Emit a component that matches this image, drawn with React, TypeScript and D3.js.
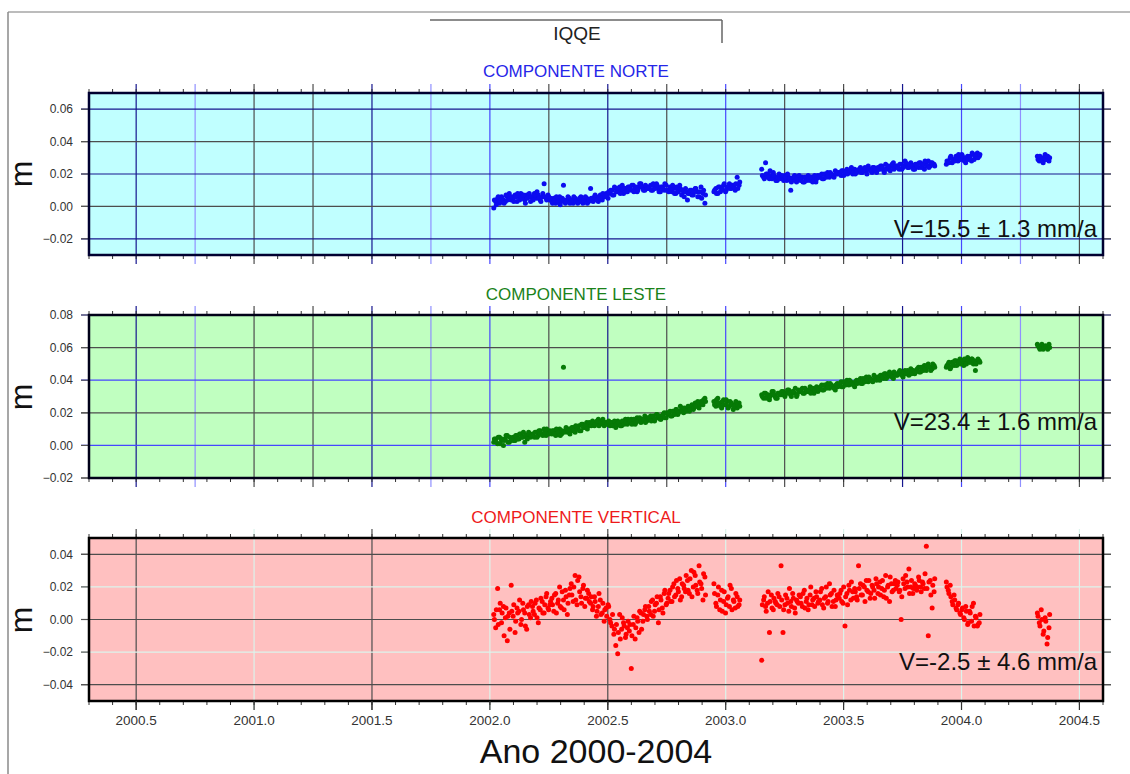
import React from "react";
import * as d3 from "d3";

// station + axis texts
const stationName = "IQQE";
const xTitle = "Ano 2000-2004";
const yTitle = "m";
const panelTitles = ["COMPONENTE NORTE", "COMPONENTE LESTE", "COMPONENTE VERTICAL"];
const velocityLabels = ["V=15.5 \u00b1 1.3 mm/a", "V=23.4 \u00b1 1.6 mm/a", "V=-2.5 \u00b1 4.6 mm/a"];
const yDomains = [[-0.03, 0.07], [-0.02, 0.08], [-0.05, 0.05]];
const xDomain = [2000.3, 2004.6];
const yearLabels = [2000.5, 2001.0, 2001.5, 2002.0, 2002.5, 2003.0, 2003.5, 2004.0, 2004.5];

// observation epochs, days after 2002-01-01 (same epochs for the 3 components)
const epochDays = [
  // 2002.0 - 2002.9
  6, 9, 12, 15, 18, 21, 24, 27, 30, 33,
  36, 39, 42, 45, 48, 51, 54, 57, 60, 63,
  66, 69, 72, 75, 78, 81, 84, 87, 90, 93,
  96, 99, 102, 105, 108, 111, 114, 117, 120, 123,
  126, 129, 132, 135, 138, 141, 144, 147, 150, 153,
  156, 159, 162, 165, 168, 171, 174, 177, 180, 183,
  186, 189, 192, 195, 198, 201, 204, 207, 210, 213,
  216, 219, 222, 225, 228, 231, 234, 237, 240, 243,
  246, 249, 252, 255, 258, 261, 264, 267, 270, 273,
  276, 279, 282, 285, 288, 291, 294, 297, 300, 303,
  306, 309, 312, 315, 318, 321, 324, 327, 330, 333,
  // 2002.95 - 2003.05
  347, 350, 353, 356, 359, 362, 365, 368, 371, 374, 377, 380, 383, 386,
  // 2003.15 - 2003.89
  421, 424, 427, 430, 433, 436, 439, 442, 445, 448,
  451, 454, 457, 460, 463, 466, 469, 472, 475, 478,
  481, 484, 487, 490, 493, 496, 499, 502, 505, 508,
  511, 514, 517, 520, 523, 526, 529, 532, 535, 538,
  541, 544, 547, 550, 553, 556, 559, 562, 565, 568,
  571, 574, 577, 580, 583, 586, 589, 592, 595, 598,
  601, 604, 607, 610, 613, 616, 619, 622, 625, 628,
  631, 634, 637, 640, 643, 646, 649, 652, 655, 658,
  661, 664, 667, 670, 673, 676, 679, 682, 685, 688,
  // 2003.94 - 2004.08
  707, 710, 713, 716, 719, 722, 725, 728, 731, 734, 737, 740, 743, 746, 749, 752, 755, 758,
  // 2004.32 - 2004.37
  848, 851, 854, 857, 860, 863, 866,
];

// the in-between days
const epochDays2 = [
  7, 10, 13, 16, 19, 22, 25, 28, 31, 34,
  37, 40, 43, 46, 49, 52, 55, 58, 61, 64,
  67, 70, 73, 76, 79, 82, 85, 88, 91, 94,
  97, 100, 103, 106, 109, 112, 115, 118, 121, 124,
  127, 130, 133, 136, 139, 142, 145, 148, 151, 154,
  157, 160, 163, 166, 169, 172, 175, 178, 181, 184,
  187, 190, 193, 196, 199, 202, 205, 208, 211, 214,
  217, 220, 223, 226, 229, 232, 235, 238, 241, 244,
  247, 250, 253, 256, 259, 262, 265, 268, 271, 274,
  277, 280, 283, 286, 289, 292, 295, 298, 301, 304,
  307, 310, 313, 316, 319, 322, 325, 328, 331, 334,
  348, 351, 354, 357, 360, 363, 366, 369, 372, 375, 378, 381, 384, 387,
  422, 425, 428, 431, 434, 437, 440, 443, 446, 449,
  452, 455, 458, 461, 464, 467, 470, 473, 476, 479,
  482, 485, 488, 491, 494, 497, 500, 503, 506, 509,
  512, 515, 518, 521, 524, 527, 530, 533, 536, 539,
  542, 545, 548, 551, 554, 557, 560, 563, 566, 569,
  572, 575, 578, 581, 584, 587, 590, 593, 596, 599,
  602, 605, 608, 611, 614, 617, 620, 623, 626, 629,
  632, 635, 638, 641, 644, 647, 650, 653, 656, 659,
  662, 665, 668, 671, 674, 677, 680, 683, 686, 689,
  708, 711, 714, 717, 720, 723, 726, 729, 732, 735, 738, 741, 744, 747, 750, 753, 756, 759,
  849, 852, 855, 858, 861, 864, 867,
];

// north component, mm
const northMm = [
  -1, 3, 5, 2, 6, 4, 3, 6, 8, 4,
  5, 7, 3, 6, 8, 5, 4, 7, 6, 3,
  6, 8, 5, 7, 4, 6, 14, 5, 7, 4,
  3, 5, 2, 4, 6, 3, 13, 2, 4, 5,
  3, 2, 5, 4, 3, 6, 2, 4, 5, 3,
  11, 4, 6, 5, 3, 7, 4, 6, 8, 5,
  8, 10, 7, 11, 9, 12, 10, 8, 11, 9,
  12, 10, 13, 11, 9, 12, 14, 11, 10, 12,
  11, 13, 10, 12, 14, 11, 9, 12, 10, 13,
  10, 12, 9, 11, 8, 10, 13, 7, 9, 11,
  4, 8, 10, 7, 11, 9, 6, 12, 8, 2,
  9, 11, 8, 12, 10, 13, 9, 12, 14, 11, 13, 10, 18, 13,
  23, 18, 27, 20, 17, 19, 21, 18, 16, 20,
  18, 17, 19, 16, 18, 10, 17, 19, 15, 18,
  16, 18, 15, 17, 19, 16, 18, 17, 15, 19,
  18, 20, 17, 19, 21, 18, 20, 19, 22, 20,
  21, 19, 22, 20, 23, 21, 22, 20, 23, 21,
  22, 24, 21, 23, 22, 25, 23, 21, 24, 22,
  24, 23, 25, 22, 26, 24, 23, 25, 27, 24,
  25, 23, 26, 24, 28, 25, 24, 27, 25, 23,
  26, 24, 27, 25, 23, 26, 28, 25, 27, 26,
  26, 28, 30, 27, 29, 31, 28, 30, 32, 29, 27, 31, 30, 28, 32, 30, 33, 31,
  31, 28, 30, 27, 32, 29, 28,
];
const northMm2 = [
  4, 1, 6, 3, 5, 2, 7, 4, 5, 6,
  3, 6, 8, 4, 5, 7, 2, 5, 8, 6,
  4, 7, 9, 5, 3, 8, 6, 4, 6, 5,
  2, 4, 6, 3, 1, 5, 4, 3, 6, 2,
  4, 6, 3, 2, 5, 3, 4, 6, 2, 4,
  5, 3, 7, 4, 6, 5, 8, 6, 7, 9,
  10, 7, 12, 9, 11, 8, 13, 11, 9, 12,
  11, 13, 9, 12, 10, 14, 12, 10, 13, 11,
  12, 10, 14, 11, 13, 9, 12, 11, 14, 10,
  9, 11, 13, 8, 12, 9, 11, 10, 6, 9,
  8, 10, 7, 9, 11, 6, 9, 5, 10, 7,
  10, 8, 12, 9, 11, 14, 10, 12, 11, 13, 12, 14, 11, 15,
  19, 17, 20, 18, 22, 17, 19, 16, 18, 17,
  19, 16, 18, 20, 17, 15, 18, 16, 17, 19,
  17, 15, 18, 16, 17, 18, 15, 19, 17, 18,
  19, 17, 20, 18, 19, 21, 19, 18, 20, 21,
  20, 22, 19, 21, 20, 22, 24, 21, 20, 22,
  23, 21, 22, 24, 20, 23, 22, 24, 23, 21,
  23, 25, 24, 21, 23, 25, 22, 26, 23, 25,
  24, 26, 23, 25, 27, 24, 26, 25, 23, 26,
  25, 27, 24, 26, 28, 25, 24, 27, 26, 25,
  28, 27, 31, 29, 28, 30, 32, 29, 31, 28, 30, 29, 31, 33, 29, 31, 30, 32,
  29, 31, 28, 30, 29, 31, 30,
];

// east component, mm
const eastMm = [
  2, 4, 1, 5, 3, 0, 4, 6, 2, 3,
  5, 3, 6, 4, 7, 5, 2, 6, 8, 5,
  7, 5, 8, 6, 9, 7, 10, 6, 8, 9,
  7, 9, 6, 8, 10, 7, 48, 9, 8, 10,
  9, 11, 8, 10, 12, 9, 13, 11, 14, 12,
  13, 15, 12, 14, 16, 13, 15, 12, 14, 13,
  12, 14, 13, 11, 15, 13, 12, 14, 16, 13,
  14, 16, 15, 13, 17, 15, 14, 16, 18, 15,
  16, 18, 17, 15, 19, 17, 16, 18, 20, 17,
  19, 21, 18, 20, 22, 19, 21, 23, 20, 22,
  23, 21, 24, 22, 26, 24, 23, 27, 25, 29,
  27, 24, 29, 26, 23, 28, 25, 27, 24, 26, 22, 25, 23, 26,
  31, 29, 32, 30, 28, 31, 33, 30, 29, 32,
  31, 33, 30, 32, 34, 31, 33, 32, 30, 34,
  33, 35, 32, 34, 33, 36, 34, 32, 35, 33,
  35, 37, 34, 36, 38, 35, 37, 36, 34, 38,
  37, 39, 36, 38, 40, 37, 39, 38, 36, 40,
  39, 41, 38, 40, 42, 39, 41, 40, 43, 41,
  42, 40, 43, 41, 44, 42, 45, 43, 41, 44,
  43, 45, 44, 42, 46, 44, 43, 47, 45, 44,
  46, 48, 45, 47, 49, 46, 50, 48, 47, 49,
  48, 50, 47, 51, 49, 52, 50, 53, 51, 49, 52, 54, 51, 53, 50, 46, 52, 52,
  62, 60, 61, 59, 61, 60, 62,
];
const eastMm2 = [
  4, 2, 5, 1, 4, 3, 6, 2, 5, 4,
  3, 6, 4, 7, 5, 8, 6, 4, 7, 6,
  6, 8, 5, 9, 7, 6, 8, 10, 7, 8,
  9, 7, 10, 8, 6, 9, 8, 11, 9, 7,
  11, 9, 12, 10, 9, 13, 11, 12, 10, 14,
  12, 14, 13, 15, 12, 14, 16, 14, 13, 15,
  14, 12, 15, 13, 14, 12, 15, 13, 14, 16,
  15, 13, 16, 14, 15, 17, 15, 16, 14, 17,
  17, 15, 18, 16, 19, 18, 16, 19, 17, 20,
  20, 18, 21, 19, 22, 20, 24, 21, 23, 21,
  24, 22, 25, 23, 24, 27, 25, 26, 28, 27,
  25, 28, 26, 24, 27, 25, 28, 23, 27, 25, 24, 27, 25, 24,
  30, 32, 29, 31, 30, 33, 31, 29, 32, 31,
  33, 31, 32, 34, 32, 30, 33, 35, 31, 33,
  34, 32, 35, 33, 34, 32, 35, 34, 36, 34,
  36, 34, 37, 35, 36, 38, 36, 35, 37, 36,
  38, 36, 39, 37, 38, 40, 38, 37, 39, 38,
  40, 38, 41, 39, 40, 42, 40, 39, 42, 40,
  41, 43, 42, 44, 41, 43, 44, 42, 45, 43,
  44, 46, 43, 45, 44, 46, 45, 44, 46, 45,
  47, 45, 48, 46, 47, 49, 48, 46, 50, 48,
  49, 51, 48, 50, 52, 49, 51, 50, 52, 53, 50, 52, 51, 53, 52, 50, 53, 51,
  61, 59, 62, 60, 61, 59, 60,
];

// vertical component, mm
const upMm = [
  3, -5, 19, 6, -2, 8, 1, -13, 4, 21,
  2, -8, 7, 5, -3, 10, 4, -6, 9, 1,
  8, 3, 12, -2, 6, 11, 4, 14, 7, 9,
  13, 5, 16, 10, 20, 7, 12, 18, 3, 15,
  22, 11, 27, 9, 26, 14, 19, 8, 13, 16,
  10, 6, 14, 2, 8, 12, 4, -1, 7, 9,
  0, -4, -9, -16, -21, 3, -6, -2, -11, -5,
  -7, -30, -3, -12, 1, -8, 4, -1, 6, 2,
  8, 3, 12, 5, 10, -2, 14, 7, 16, 9,
  13, 18, 11, 22, 15, 19, 25, 14, 21, 17,
  24, 16, 30, 20, 27, 18, 33, 22, 12, 26,
  22, 10, 15, 6, 18, 11, 4, 13, 8, 19, 12, 7, 14, 9,
  -25, 12, 8, 10, -8, 15, 6, 11, 9, 14,
  33, -8, 9, 13, 5, 11, 16, 7, 12, 10,
  14, 8, 18, 11, 6, 15, 9, 13, 17, 10,
  12, 19, 7, 14, 10, 22, 16, 11, 8, 15,
  13, 18, 10, -4, 16, 21, 12, 17, 19, 14,
  33, 22, 15, 20, 24, 17, 13, 21, 18, 25,
  16, 23, 19, 14, 27, 20, 11, 22, 18, 24,
  21, 17, 0, 25, 19, 23, 31, 20, 16, 22,
  18, 26, 20, 23, 19, 45, -10, 24, 7, 17,
  23, 18, 21, 11, 15, 7, 9, 4, 6, 1, 8, -3, 5, -1, 10, 2, -4, -2,
  4, -2, 6, -9, 1, -15, -5,
];
const upMm2 = [
  0, 6, -3, 10, 4, -10, 7, 2, -6, 5,
  9, -1, 4, 12, 0, 6, -4, 8, 3, 11,
  5, 10, 1, 7, 13, 4, 9, 16, 6, 11,
  9, 15, 4, 12, 8, 17, 6, 14, 10, 19,
  15, 20, 12, 24, 17, 10, 21, 13, 18, 11,
  14, 8, 11, 5, 16, 3, 10, 6, 2, 8,
  -2, 3, -6, -3, -8, -12, 1, -4, -9, -1,
  -3, -10, 2, -5, -1, 5, -6, 3, 8, 0,
  5, 11, 2, 9, 14, 6, 12, 4, 18, 10,
  16, 11, 20, 14, 24, 17, 12, 22, 19, 27,
  18, 25, 14, 29, 21, 16, 23, 19, 28, 15,
  16, 8, 20, 12, 5, 17, 9, 14, 21, 6, 11, 16, 8, 12,
  9, 14, 5, 17, 11, 7, 13, 10, 16, 8,
  12, 6, 15, 10, 19, 8, 13, 4, 11, 15,
  10, 16, 7, 13, 9, 20, 12, 8, 14, 11,
  17, 9, 13, 20, 11, 15, 8, 18, 12, 14,
  16, 11, 20, 14, 9, 18, 23, 13, 17, 12,
  19, 15, 21, 11, 18, 24, 16, 20, 13, 22,
  20, 15, 24, 18, 13, 21, 26, 17, 22, 19,
  23, 18, 14, 22, 27, 20, 16, 24, 19, 21,
  20, 24, 17, 22, 28, 19, 23, 15, 21, 25,
  20, 16, 14, 9, 12, 6, 10, 3, 7, 0, 5, -2, 4, 8, -4, 1, -3, 3,
  2, -4, 0, -7, -1, -11, 3,
];

const seriesMm = [[northMm, northMm2], [eastMm, eastMm2], [upMm, upMm2]];
const epochSets = [epochDays, epochDays2];

// styles
const NAVY = "#16168e";
const BLUE = "#4646ff";
const LBLUE = "#9090ff";
const GRAY = "#4d4d4d";
const PALE = "#dcf4ec";
const FONT = "'Liberation Sans', Arial, Helvetica, sans-serif";

const gridV12 = [NAVY, LBLUE, GRAY, GRAY, NAVY, LBLUE, BLUE, GRAY, NAVY, GRAY, BLUE, GRAY, GRAY, NAVY, BLUE, LBLUE, GRAY];

const panelLayout = [
  { top: 93, bottom: 255, bg: "#c0ffff", dot: "#0c0cf0", title: "#2626e8", titleY: 77, vY: 237, mY: 174,
    gridStep: 0.25, gridV: gridV12, gridH: [NAVY, GRAY, NAVY, GRAY, NAVY], frame: "#000030" },
  { top: 315, bottom: 478, bg: "#c0ffc0", dot: "#067a06", title: "#1a821a", titleY: 300, vY: 430, mY: 397,
    gridStep: 0.25, gridV: gridV12, gridH: [GRAY, BLUE, GRAY, BLUE, GRAY, BLUE], frame: "#000018" },
  { top: 538, bottom: 701, bg: "#ffc0c0", dot: "#ff0000", title: "#ee1a1a", titleY: 523, vY: 670, mY: 620,
    gridStep: 0.5, gridV: [GRAY, PALE, GRAY, PALE, GRAY, PALE, PALE, PALE, PALE], gridH: [GRAY, PALE, GRAY, PALE, GRAY], frame: "#000000" },
];

const LEFT = 89;
const RIGHT = 1103;

export default function App() {
  const x = d3.scaleLinear().domain(xDomain).range([LEFT, RIGHT]);
  const minorYears = d3.range(3, 47).map((i) => 2000 + i / 10);
  const fmtY = d3.format(".2f");
  const fmtX = d3.format(".1f");

  return (
    <svg width={1130} height={774} style={{ position: "absolute", left: 0, top: 0 }} fontFamily={FONT}>
      <rect x={0} y={0} width={1130} height={774} fill="#ffffff" />
      {/* page border */}
      <line x1={8} y1={12} x2={1130} y2={12} stroke="#bcbcbc" strokeWidth={2} />
      <line x1={8} y1={12} x2={8} y2={774} stroke="#8a8a8a" strokeWidth={1.5} />

      {/* station box */}
      <line x1={430} y1={20} x2={722} y2={20} stroke="#666" strokeWidth={1.5} />
      <line x1={722} y1={20} x2={722} y2={43} stroke="#666" strokeWidth={1.5} />
      <text x={577} y={40} textAnchor="middle" fontSize={19} fill="#222">{stationName}</text>

      {panelLayout.map((cfg, p) => {
        const y = d3.scaleLinear().domain(yDomains[p]).range([cfg.bottom, cfg.top]);
        const yTicks = y.ticks(5);
        const gridYears = d3.range(0, Math.round(4 / cfg.gridStep) + 1).map((i) => 2000.5 + i * cfg.gridStep);
        const pts: [number, number][] = [];
        epochSets.forEach((days, s) => {
          const vals = seriesMm[p][s];
          const n = Math.min(vals.length, days.length);
          for (let i = 0; i < n; i++) pts.push([2002 + days[i] / 365.25, vals[i] / 1000]);
        });
        const isLast = p === panelLayout.length - 1;
        return (
          <g key={p}>
            <text x={576} y={cfg.titleY} textAnchor="middle" fontSize={17} fill={cfg.title}>{panelTitles[p]}</text>
            <rect x={LEFT} y={cfg.top} width={RIGHT - LEFT} height={cfg.bottom - cfg.top} fill={cfg.bg} />
            {/* grid */}
            {gridYears.map((g, i) => (
              <line key={"gv" + i} x1={x(g)} x2={x(g)} y1={cfg.top - 9} y2={cfg.bottom + 9}
                stroke={cfg.gridV[i] || GRAY} strokeWidth={1.2} />
            ))}
            {yTicks.map((t, i) => (
              <line key={"gh" + i} x1={LEFT - 8} x2={RIGHT + 8} y1={y(t)} y2={y(t)}
                stroke={cfg.gridH[i] || GRAY} strokeWidth={1.2} />
            ))}
            {/* minor x ticks */}
            {minorYears.map((m, i) => (
              <g key={"mt" + i}>
                <line x1={x(m)} x2={x(m)} y1={cfg.top - 4} y2={cfg.top} stroke="#333" strokeWidth={1} />
                <line x1={x(m)} x2={x(m)} y1={cfg.bottom} y2={cfg.bottom + 4} stroke="#333" strokeWidth={1} />
              </g>
            ))}
            {/* y tick stubs outside frame */}
            {yTicks.map((t, i) => (
              <g key={"yt" + i}>
                <line x1={LEFT - 8} x2={LEFT} y1={y(t)} y2={y(t)} stroke="#555" strokeWidth={1.2} />
                <line x1={RIGHT} x2={RIGHT + 8} y1={y(t)} y2={y(t)} stroke="#555" strokeWidth={1.2} />
                <text x={73} y={y(t)} dy="0.35em" textAnchor="end" fontSize={12} fill="#333">{fmtY(t)}</text>
              </g>
            ))}
            {/* data */}
            {pts.map((d, i) => (
              <circle key={"pt" + i} cx={x(d[0])} cy={y(d[1])} r={2.5} fill={cfg.dot} />
            ))}
            <rect x={LEFT} y={cfg.top} width={RIGHT - LEFT} height={cfg.bottom - cfg.top}
              fill="none" stroke={cfg.frame} strokeWidth={2.5} />
            <text x={1097} y={cfg.vY} textAnchor="end" fontSize={24} fill="#111">{velocityLabels[p]}</text>
            <text transform={`translate(32,${cfg.mY}) rotate(-90)`} textAnchor="middle" fontSize={32} fill="#111">{yTitle}</text>
            {isLast && yearLabels.map((yr, i) => (
              <g key={"xl" + i}>
                <line x1={x(yr)} x2={x(yr)} y1={cfg.bottom} y2={cfg.bottom + 9} stroke="#333" strokeWidth={1.2} />
                <text x={x(yr)} y={725} textAnchor="middle" fontSize={13.5} fill="#333">{fmtX(yr)}</text>
              </g>
            ))}
          </g>
        );
      })}

      <text x={596} y={763} textAnchor="middle" fontSize={34} fill="#111">{xTitle}</text>
    </svg>
  );
}
